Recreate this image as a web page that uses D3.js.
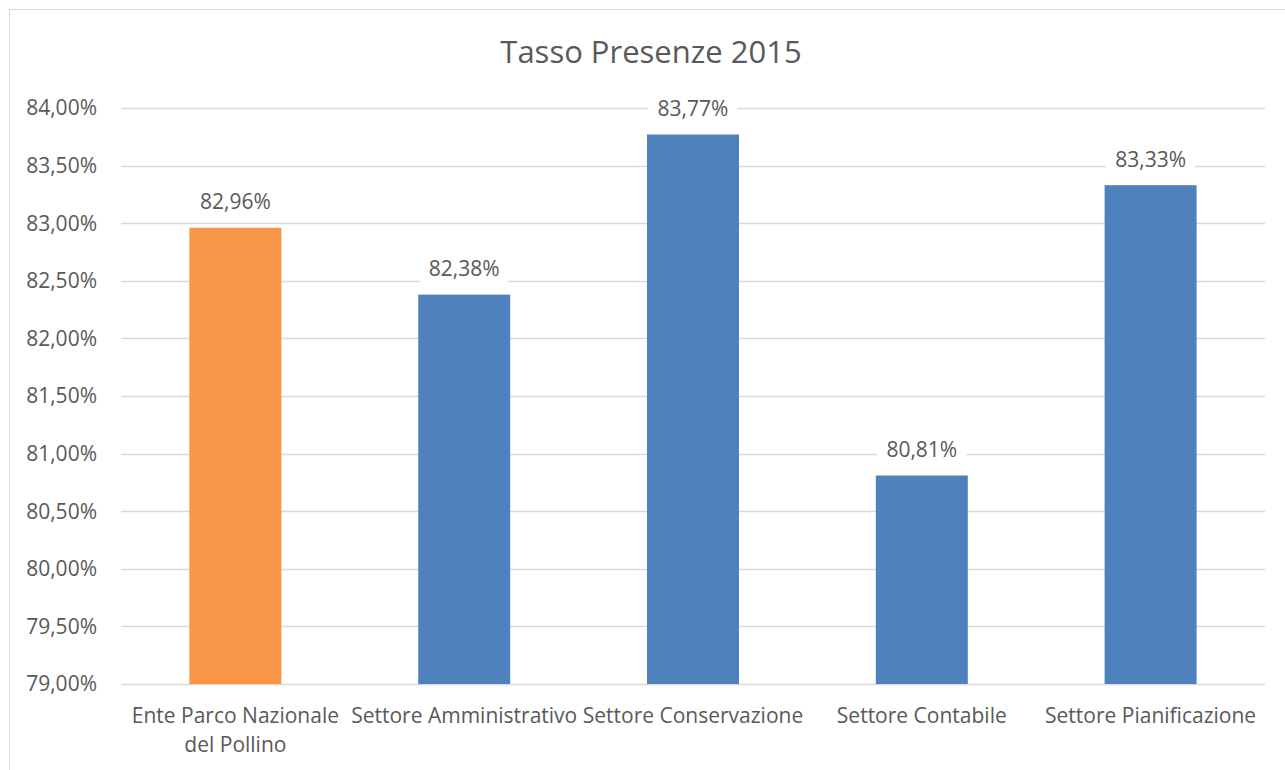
<!DOCTYPE html>
<html>
<head>
<meta charset="utf-8">
<script src="https://cdn.jsdelivr.net/npm/d3@7"></script>
<style>
  body { margin: 0; background: #fff; }
  svg { display: block; font-family: "Open Sans", sans-serif; }
</style>
</head>
<body>
<svg id="chart" width="1285" height="770"></svg>
<script>
// Data
const categories = ["Ente Parco Nazionale\ndel Pollino", "Settore Amministrativo", "Settore Conservazione", "Settore Contabile", "Settore Pianificazione"];
const values = [82.96, 82.38, 83.77, 80.81, 83.33];
const barColors = ["#F79646", "#4F81BD", "#4F81BD", "#4F81BD", "#4F81BD"];
const yTicks = [79, 79.5, 80, 80.5, 81, 81.5, 82, 82.5, 83, 83.5, 84];
const title = "Tasso Presenze 2015";

const svg = d3.select("#chart");
const margin = { top: 108, right: 20, bottom: 86, left: 121 };
const width = 1285, height = 770;

const textColor = "#595959",
    gridColor = "#D9D9D9";

// chart frame (runs off the right/bottom edge like the original)
svg.append("rect")
    .attr("x", 9.5).attr("y", 9.5)
    .attr("width", 1290).attr("height", 800)
    .attr("fill", "#fff")
    .attr("stroke", gridColor).attr("stroke-width", 1);

const x = d3.scaleBand()
    .domain(categories)
    .range([margin.left, width - margin.right])
    .paddingInner(0.598)
    .paddingOuter(0.299);

const y = d3.scaleLinear()
    .domain([79, 84])
    .range([684, margin.top]);

const fmt = v => d3.format(".2f")(v).replace(".", ",") + "%";

// gridlines
svg.append("g")
    .selectAll("line")
    .data(yTicks)
    .join("line")
    .attr("x1", margin.left).attr("x2", width - margin.right)
    .attr("y1", d => Math.round(y(d)) + 0.5).attr("y2", d => Math.round(y(d)) + 0.5)
    .attr("stroke", gridColor).attr("stroke-width", 1.3);

// y axis labels
svg.append("g")
    .selectAll("text")
    .data(yTicks)
    .join("text")
    .attr("x", 97)
    .attr("y", d => y(d))
    .attr("dy", "0.35em")
    .attr("text-anchor", "end")
    .attr("font-size", 21)
    .attr("fill", textColor)
    .text(fmt);

// bars
svg.append("g")
    .selectAll("rect")
    .data(values)
    .join("rect")
    .attr("x", (d, i) => x(categories[i]))
    .attr("width", x.bandwidth())
    .attr("y", d => y(d))
    .attr("height", d => y(79) - y(d))
    .attr("fill", (d, i) => barColors[i]);

// data labels with white background
const labels = svg.append("g")
    .selectAll("g")
    .data(values)
    .join("g")
    .attr("transform", (d, i) => `translate(${x(categories[i]) + x.bandwidth() / 2},${y(d) - 26})`);

labels.append("text")
    .attr("text-anchor", "middle")
    .attr("dy", "0.35em")
    .attr("font-size", 21)
    .attr("fill", textColor)
    .text(fmt);

labels.each(function() {
    const g = d3.select(this);
    const bb = g.select("text").node().getBBox();
    g.insert("rect", "text")
        .attr("x", bb.x - 9).attr("y", bb.y - 2)
        .attr("width", bb.width + 18).attr("height", bb.height + 4)
        .attr("fill", "#fff");
});

// category labels
svg.append("g")
    .selectAll("text")
    .data(categories)
    .join("text")
    .attr("x", d => x(d) + x.bandwidth() / 2)
    .attr("y", 716)
    .attr("text-anchor", "middle")
    .attr("font-size", 21)
    .attr("fill", textColor)
    .each(function(d) {
        const t = d3.select(this);
        d.split("\n").forEach((line, k) => {
            t.append("tspan")
                .attr("x", t.attr("x"))
                .attr("dy", k === 0 ? "0.35em" : 29)
                .text(line);
        });
    });

// title
svg.append("text")
    .attr("x", 651)
    .attr("y", 52)
    .attr("dy", "0.35em")
    .attr("text-anchor", "middle")
    .attr("font-size", 31)
    .attr("fill", textColor)
    .text(title);
</script>
</body>
</html>
